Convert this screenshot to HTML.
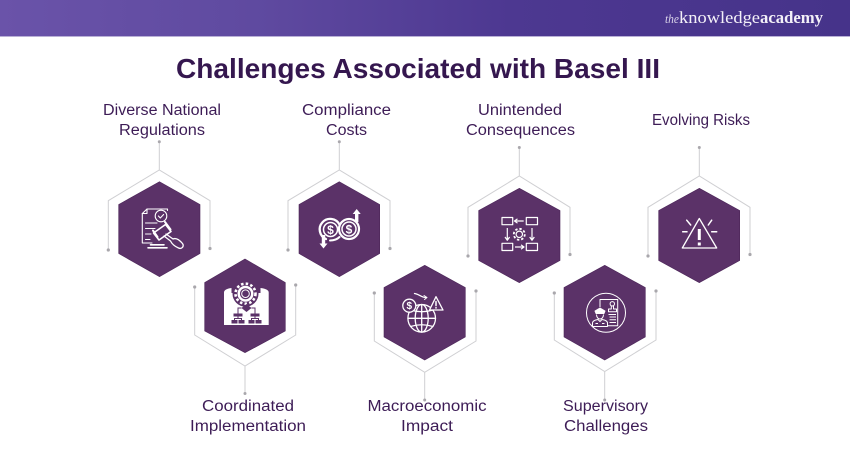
<!DOCTYPE html>
<html><head><meta charset="utf-8"><title>Challenges Associated with Basel III</title>
<style>html,body{margin:0;padding:0;background:#fff}svg{display:block}</style></head>
<body>
<svg xmlns="http://www.w3.org/2000/svg" width="850" height="450" viewBox="0 0 850 450">
<defs>
<linearGradient id="hd" x1="0" y1="0" x2="1" y2="0">
<stop offset="0" stop-color="#6a53a9"/><stop offset=".3" stop-color="#5f4aa0"/><stop offset=".6" stop-color="#4d3891"/><stop offset="1" stop-color="#46338a"/>
</linearGradient>
</defs>
<rect width="850" height="450" fill="#fff"/>
<rect width="850" height="36.5" fill="url(#hd)"/>
<rect y="36" width="850" height="1" fill="#b9b0d6"/>
<g font-family="'Liberation Serif',serif" fill="#f3f0f8" font-size="17">
<text x="665" y="23" font-style="italic" font-size="13" textLength="14" lengthAdjust="spacingAndGlyphs" fill="#d8d2e8">the</text>
<text x="679" y="23" textLength="81" lengthAdjust="spacingAndGlyphs">knowledge</text>
<text x="760" y="23" font-weight="bold" textLength="63" lengthAdjust="spacingAndGlyphs">academy</text>
</g>
<text x="176" y="78" font-family="'Liberation Sans',sans-serif" font-weight="bold" font-size="27.5" fill="#35174f" textLength="484" lengthAdjust="spacingAndGlyphs">Challenges Associated with Basel III</text>
<g fill="none" stroke="#cfcfd2" stroke-width="1">
<path d="M108.3 250V200.7L159.3 170L210 200.7V248M159.3 170V142"/>
<path d="M288 250V200.7L339.3 170L390 200.7V248M339.3 170V142"/>
<path d="M468 256V207.3L519.3 176L570 207.3V254M519.3 176V147"/>
<path d="M648 256V207.3L699.3 176L750 207.3V254M699.3 176V147"/>
<path d="M194.7 287V335L245 366L295.7 335V285M245 366V393"/>
<path d="M374.3 293V341L424.7 372.3L476 341V291M424.7 372.3V400"/>
<path d="M554.3 293V340L604.7 371.5L656 340V291M604.7 371.5V400"/>
</g>
<g fill="#a9a7ac">
<circle cx="159.3" cy="141.7" r="1.5"/><circle cx="108.3" cy="250" r="1.6"/><circle cx="210" cy="248.5" r="1.6"/>
<circle cx="339.3" cy="141.7" r="1.5"/><circle cx="288" cy="250" r="1.6"/><circle cx="390" cy="248.5" r="1.6"/>
<circle cx="519.3" cy="147.5" r="1.5"/><circle cx="468" cy="256" r="1.6"/><circle cx="570" cy="254.5" r="1.6"/>
<circle cx="699.3" cy="147.5" r="1.5"/><circle cx="648" cy="256" r="1.6"/><circle cx="750" cy="254.5" r="1.6"/>
<circle cx="245" cy="393.5" r="1.5"/><circle cx="194.7" cy="287" r="1.6"/><circle cx="295.7" cy="285" r="1.6"/>
<circle cx="424.7" cy="400" r="1.5"/><circle cx="374.3" cy="293" r="1.6"/><circle cx="476" cy="291" r="1.6"/>
<circle cx="604.7" cy="400" r="1.5"/><circle cx="554.3" cy="293" r="1.6"/><circle cx="656" cy="291" r="1.6"/>
</g>
<g font-family="'Liberation Sans',sans-serif" font-size="15.5" fill="#3d1c56">
<text x="103" y="115" textLength="118" lengthAdjust="spacingAndGlyphs">Diverse National</text>
<text x="119" y="135" textLength="86" lengthAdjust="spacingAndGlyphs">Regulations</text>
<text x="302" y="115" textLength="89" lengthAdjust="spacingAndGlyphs">Compliance</text>
<text x="326" y="135" textLength="41" lengthAdjust="spacingAndGlyphs">Costs</text>
<text x="478" y="115" textLength="84" lengthAdjust="spacingAndGlyphs">Unintended</text>
<text x="466" y="135" textLength="109" lengthAdjust="spacingAndGlyphs">Consequences</text>
<text x="652" y="125" textLength="98" lengthAdjust="spacingAndGlyphs">Evolving Risks</text>
<text x="202" y="411" textLength="92" lengthAdjust="spacingAndGlyphs">Coordinated</text>
<text x="190" y="431" textLength="116" lengthAdjust="spacingAndGlyphs">Implementation</text>
<text x="367.5" y="411" textLength="119" lengthAdjust="spacingAndGlyphs">Macroeconomic</text>
<text x="401" y="431" textLength="52" lengthAdjust="spacingAndGlyphs">Impact</text>
<text x="563" y="411" textLength="85" lengthAdjust="spacingAndGlyphs">Supervisory</text>
<text x="564" y="431" textLength="84" lengthAdjust="spacingAndGlyphs">Challenges</text>
</g>
<g fill="#5b3268" stroke="#4c2659" stroke-width=".6">
<polygon points="159.5,181.7 200,204.5 200,253.5 159.5,276.7 118.7,253.5 118.7,204.5"/>
<polygon points="339.3,181.7 379.7,204.5 379.7,253.5 339.3,276.7 299,253.5 299,204.5"/>
<polygon points="519.3,188.3 560,210.5 560,260.5 519.3,282.7 478.7,260.5 478.7,210.5"/>
<polygon points="699.3,188.3 739.7,210.5 739.7,260.5 699.3,282.7 658.7,260.5 658.7,210.5"/>
<polygon points="245,259 285.3,282.5 285.3,331 245,352.7 204.7,331 204.7,282.5"/>
<polygon points="424.7,265.3 465.3,287.5 465.3,337 424.7,360 384,337 384,287.5"/>
<polygon points="604.7,265.3 645.3,287.5 645.3,337 604.7,360 564,337 564,287.5"/>
</g>

<!-- icon 1: document and gavel -->
<g fill="none" stroke="#fff" stroke-width="1.1" stroke-linecap="round" stroke-linejoin="round">
<path d="M152 243H142.300V213.500L147 209H167.500V210.500"/><path d="M142.300 213.500H147V209"/>
<circle cx="161" cy="216" r="5.800"/><path d="M158.400 216l1.900 2 3.300-3.500"/>
<path d="M145.500 223H157M145.500 228.500H155M145.500 234H151M145.500 239.500H150"/>
<path d="M153.500 233L165.500 224.500L171 231.500L159 240Z" fill="#5b3268" stroke-width="1.600"/>
<path d="M153 230.500L157.500 237M165 222L170.500 229.500" stroke-width="2"/>
<path d="M166 234L173 239C176 237.500 179.500 240 182.500 243.500C184.500 246.500 181.500 249.500 178.500 248C175 246.500 172 244 170.500 241L164 236" stroke-width="1.300"/>
<path d="M148 247.800H167M150.500 244.800H164" stroke-width="1.600"/>
</g>

<!-- icon 2: blueprint, gear and chart -->
<path d="M224 292.500Q224 289 231.500 288V293H260.500V288Q268.700 289 268.700 292.500V325H224Z" fill="#fff"/>
<circle cx="245.500" cy="293.700" r="13" fill="#5b3268"/>
<circle cx="245.500" cy="293.700" r="10" fill="none" stroke="#fff" stroke-width="2.600" stroke-dasharray="2.500 2.200"/>
<circle cx="245.500" cy="293.700" r="8" fill="#fff"/>
<circle cx="245.500" cy="293.700" r="5.500" fill="#5b3268"/>
<circle cx="245.500" cy="293.700" r="3.800" fill="none" stroke="#fff" stroke-width="1"/>
<g fill="#5b3268" stroke="none">
<path d="M246.500 304L251.500 308L246.500 312L241.500 308Z"/>
<rect x="233.500" y="313.500" width="9" height="3"/><rect x="250.500" y="313.500" width="9" height="3"/>
<rect x="231.500" y="320" width="6" height="3.500"/><rect x="238.500" y="320" width="6" height="3.500"/>
<rect x="248.500" y="320" width="6" height="3.500"/><rect x="255.500" y="320" width="6" height="3.500"/>
</g>
<path d="M241.500 308H238V313.500M251.500 308H255V313.500M238 316.500V318.500M234.500 320V318.500H241.500V320M255 316.500V318.500M251.500 320V318.500H258.500V320" fill="none" stroke="#5b3268" stroke-width="1"/>

<!-- icon 3: coins -->
<g fill="none" stroke="#fff" stroke-linecap="round">
<path d="M326 239A10.500 10.500 0 1 1 339.500 224.500" stroke-width="2.300"/>
<circle cx="330.500" cy="229.500" r="7" stroke-width="1.500"/>
<circle cx="349" cy="229" r="10" stroke-width="2.200"/>
<circle cx="349" cy="229" r="7" stroke-width="1.500"/>
<path d="M330 240.500C334 240.500 337 239.500 339.500 237" stroke-width="2"/>
<path d="M356.700 222V213" stroke-width="3.400" stroke-linecap="butt"/>
<path d="M323.500 235V244" stroke-width="3.400" stroke-linecap="butt"/>
</g>
<path d="M352.700 214L356.700 209L360.700 214ZM319.500 243.500L323.500 248.500L327.500 243.500Z" fill="#fff"/>
<g font-family="'Liberation Sans',sans-serif" font-weight="bold" font-size="12" fill="#fff" text-anchor="middle">
<text x="330.500" y="233.800">$</text><text x="349" y="233.300">$</text>
</g>

<!-- icon 4: globe -->
<g fill="none" stroke="#fff" stroke-width="1.300" stroke-linecap="round" stroke-linejoin="round">
<circle cx="421.700" cy="318.300" r="13.800"/>
<ellipse cx="421.700" cy="318.300" rx="6.500" ry="13.800"/>
<path d="M408 318.300H435.500M421.700 304.500V332"/>
<path d="M410.500 310Q421.700 313.500 433 310M410.500 326.500Q421.700 323 433 326.500"/>
<circle cx="409.300" cy="305.700" r="6.500" fill="#5b3268"/>
<path d="M436 296.700L443 310H429.500Z" fill="#5b3268"/>
<path d="M414.500 293.500C419 294 421 297.500 426 297.500"/>
<path d="M424 295.500L427 297.500L424.500 299.500" stroke-width="1"/>
<path d="M436 301.500V305.500M436 307.500V308" stroke-width="1.500"/>
</g>
<text x="409.300" y="309.200" font-family="'Liberation Sans',sans-serif" font-weight="bold" font-size="10" fill="#fff" text-anchor="middle">$</text>

<!-- icon 5: process -->
<g fill="none" stroke="#fff" stroke-width="1.200" stroke-linejoin="round">
<rect x="502" y="217.500" width="10.700" height="7.200"/><rect x="526.300" y="217.500" width="11.200" height="7.200"/>
<rect x="502" y="243.300" width="10.700" height="7.200"/><rect x="526.300" y="243.300" width="11.200" height="7.200"/>
<path d="M523.700 221H515M517.500 218.800L514.500 221L517.500 223.200"/>
<path d="M515 247H523.500M521 244.800L524 247L521 249.200"/>
<path d="M507.300 228V239.500M505 237L507.300 240.300L509.600 237"/>
<path d="M532 228V239.500M529.700 237L532 240.300L534.300 237"/>
<circle cx="519.300" cy="234.300" r="3.200"/>
<circle cx="519.300" cy="234.300" r="5.500" stroke-width="1.800" stroke-dasharray="2.400 1.900"/>
</g>

<!-- icon 6: supervisor -->
<g fill="none" stroke="#fff" stroke-width="1" stroke-linejoin="round">
<circle cx="606" cy="312.700" r="19.500"/>
<path d="M600 307V299.500H617.700V325.700H607.500"/>
<circle cx="612.300" cy="303.800" r="2.200"/><path d="M611.300 306V309H608.500V311.800H616.500V309H613.500V306"/>
<path d="M608.500 314.500H616M609.500 317H616M609.500 319.700H616M609.500 322.500H616"/>
<path d="M595 311L600 308L605 311L604 313.500H596Z" fill="#fff"/>
<path d="M596.500 314.500C596.500 320.500 603.500 320.500 603.500 314.500"/>
<path d="M592.500 326.500V323C592.500 320.500 596 320 598 319.500L600 321.500L602 319.500C604 320 607.500 320.500 607.500 323V326.500Z"/>
<path d="M595.500 323.500H598M602 323.500H604.500"/>
</g>

<!-- icon 7: warning -->
<g fill="none" stroke="#fff" stroke-width="1.300" stroke-linecap="round" stroke-linejoin="round">
<path d="M699.300 218.500L716.700 248H682.300Z"/>
<path d="M699.300 229V240" stroke-width="3" stroke-linecap="butt"/>
<path d="M699.300 242.500V245.500" stroke-width="3" stroke-linecap="butt"/>
<path d="M682.700 231.700H687M686.700 220.200L690.700 225M708.300 225L711.700 220.200M711.700 231.700H716.700" stroke-width="1.500"/>
</g>
</svg>
</body></html>
